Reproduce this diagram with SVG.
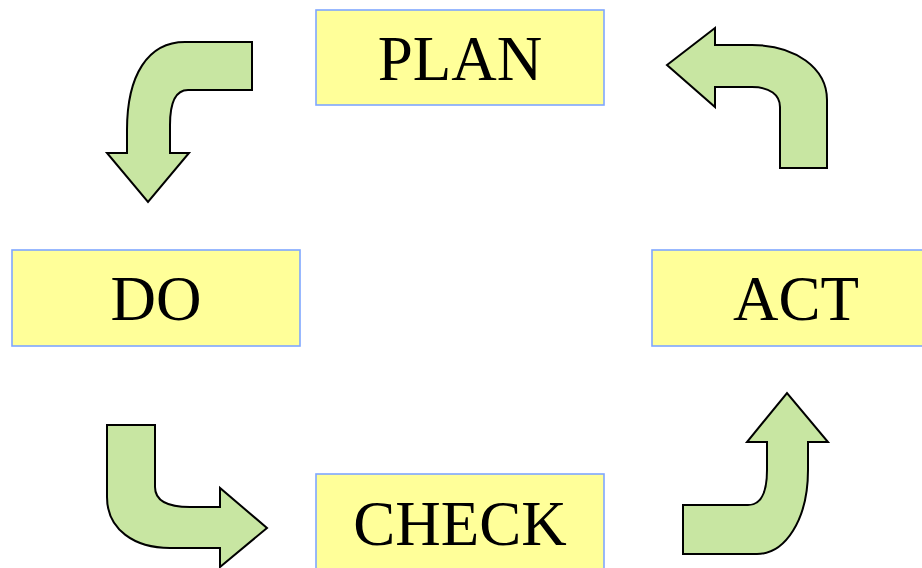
<svg xmlns="http://www.w3.org/2000/svg" width="922" height="568" viewBox="0 0 922 568">
<style>
.box{fill:#ffff99;stroke:#7fa7ff;stroke-width:1.6}
.lbl{font-family:"Liberation Serif","Times New Roman",serif;font-size:63px;fill:#000;text-anchor:middle}
.arr{fill:#c8e6a2;stroke:#000;stroke-width:2;stroke-linejoin:miter}
</style>
<rect width="922" height="568" fill="#fff"/>
<g id="plan"><rect class="box" x="316" y="10" width="288" height="95"/><text class="lbl" x="460" y="80">PLAN</text></g>
<g id="do"><rect class="box" x="12" y="250" width="288" height="96"/><text class="lbl" x="156" y="320">DO</text></g>
<g id="act"><rect class="box" x="652" y="250" width="288" height="96"/><text class="lbl" x="796" y="320">ACT</text></g>
<g id="check"><rect class="box" x="316" y="474" width="288" height="96"/><text class="lbl" x="460" y="545">CHECK</text></g>
<g id="connectors">
<path class="arr" d="M252,42 L185,42 C148,42 127,75 127,130 L127,153 L107,153 L148,202 L189,153 L170,153 L170,125 C170,103 176,90 188,90 L252,90 Z"/>
<path class="arr" d="M780,168 L780,107 C780,95 770,87 752,87 L715,87 L715,107 L667,65 L715,28 L715,45 L752,45 C795,45 827,68 827,100 L827,168 Z"/>
<path class="arr" d="M107,425 L155,425 L155,487 C155,499 165,507 190,507 L220,507 L220,488 L267,528 L220,567 L220,548 L170,548 C135,548 107,530 107,497 Z"/>
<path class="arr" d="M683,505 L748,505 C760,505 767,495 767,470 L767,442 L747,442 L787,393 L828,442 L808,442 L808,470 C808,520 785,554 757,554 L683,554 Z"/>
</g>
</svg>
